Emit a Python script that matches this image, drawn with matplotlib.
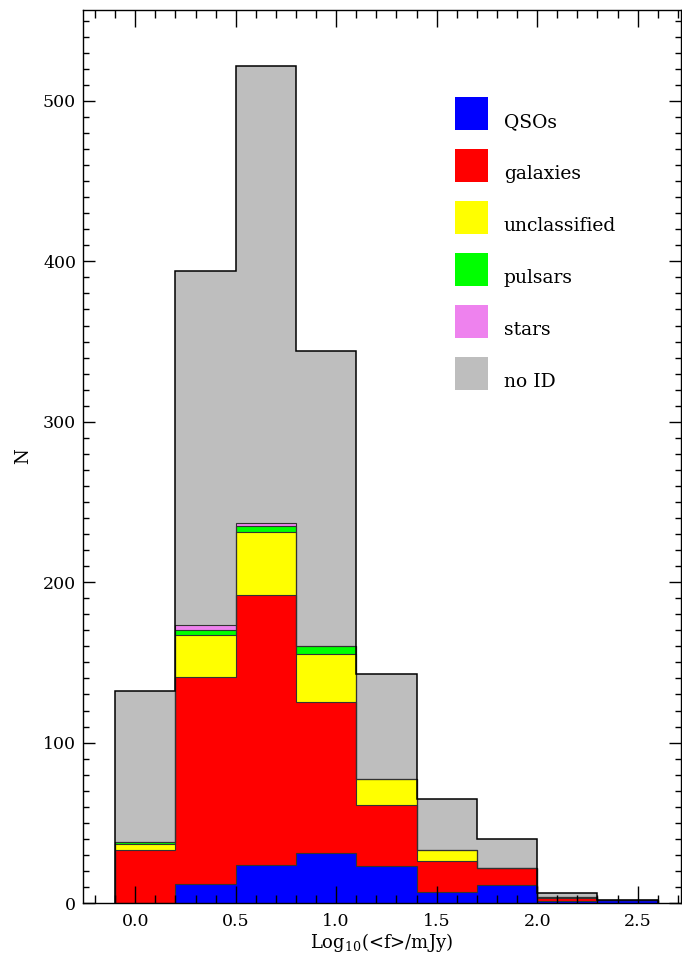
import numpy as np
import matplotlib
matplotlib.use('Agg')
import matplotlib.pyplot as plt
from matplotlib.patches import Rectangle
from matplotlib.ticker import MultipleLocator

plt.rcParams['font.family'] = 'DejaVu Serif'
plt.rcParams['mathtext.fontset'] = 'dejavuserif'

# histogram bins in Log10(<f>/mJy)
bin_edges = [-0.1, 0.2, 0.5, 0.8, 1.1, 1.4, 1.7, 2.0, 2.3, 2.6]

# counts per bin, stacked bottom to top
qsos = [0, 12, 24, 31, 23, 7, 11, 1, 2]
galaxies = [33, 129, 168, 94, 38, 19, 11, 2, 0]
unclassified = [4, 26, 39, 30, 16, 7, 0, 1, 0]
pulsars = [1, 3, 4, 5, 0, 0, 0, 0, 0]
stars = [0, 3, 2, 0, 0, 0, 0, 0, 0]
no_id = [94, 221, 285, 184, 66, 32, 18, 2, 0]

labels = ['QSOs', 'galaxies', 'unclassified', 'pulsars', 'stars', 'no ID']
colors = ['#0000ff', '#ff0000', '#ffff00', '#00ff00', '#ee82ee', '#bebebe']
layers = [qsos, galaxies, unclassified, pulsars, stars, no_id]

fig = plt.figure(figsize=(6.82, 9.60), dpi=100)
ax = fig.add_axes([83 / 682, 57 / 960, 598 / 682, 893 / 960])

edges = np.array(bin_edges)
base = np.zeros(len(qsos))
tops = []
for vals, col in zip(layers, colors):
    top = base + np.array(vals)
    ax.stairs(top, edges, baseline=base, fill=True, color=col, lw=0)
    tops.append(top)
    base = top

# step outlines of each cumulative layer
for i, top in enumerate(tops):
    last = i == len(tops) - 1
    ax.stairs(top, edges, baseline=0, fill=False,
              color='black' if last else '#333333', lw=1.1 if last else 0.8)

# manual legend
for i, (lab, col) in enumerate(zip(labels, colors)):
    y0 = 0.8656 - i * 0.0582
    ax.add_patch(Rectangle((0.622, y0), 0.055, 0.037, transform=ax.transAxes,
                           facecolor=col, edgecolor='none'))
    ax.text(0.704, y0 + 0.009, lab, transform=ax.transAxes, fontsize=13.5,
            va='center', ha='left')

ax.set_xlim(-0.26, 2.716)
ax.set_ylim(0, 556.7)
ax.xaxis.set_major_locator(MultipleLocator(0.5))
ax.xaxis.set_minor_locator(MultipleLocator(0.1))
ax.yaxis.set_major_locator(MultipleLocator(100))
ax.yaxis.set_minor_locator(MultipleLocator(10))
ax.set_xticks([0.0, 0.5, 1.0, 1.5, 2.0, 2.5])
ax.set_xticklabels(['0.0', '0.5', '1.0', '1.5', '2.0', '2.5'])

ax.tick_params(axis='x', which='major', direction='in', length=12.2, width=1,
               top=True, labelsize=12.5, pad=7)
ax.tick_params(axis='x', which='minor', direction='in', length=6.1, width=1, top=True)
ax.tick_params(axis='y', which='major', direction='in', length=8.6, width=1,
               right=True, labelsize=12.5, pad=5)
ax.tick_params(axis='y', which='minor', direction='in', length=4.3, width=1, right=True)
for sp in ax.spines.values():
    sp.set_linewidth(1)

ax.set_xlabel('Log$_{10}$(<f>/mJy)', fontsize=13, labelpad=1)
ax.set_ylabel('N', fontsize=13)
ax.yaxis.set_label_coords(-0.085, 0.5)

fig.savefig('out.png', dpi=100)
